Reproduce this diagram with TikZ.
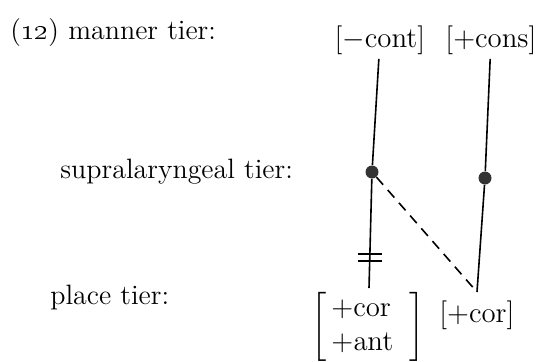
\documentclass[tikz,border=0pt]{standalone}
\usepackage{amsmath}
\usetikzlibrary{calc, positioning}

\begin{document}
\begin{tikzpicture}[
        x=0.5pt, y=-0.5pt,
        tier/.style={anchor=west, inner sep=0pt, font=\fontsize{14}{17}\selectfont},
        feat/.style={inner sep=2pt, font=\fontsize{14}{17}\selectfont},
        root/.style={circle, fill=black!80, inner sep=0pt, minimum size=6.5pt},
        assoc/.style={line width=0.8pt},
        delink/.style={line width=0.8pt, dash pattern=on 5pt off 3.5pt},
    ]
    \useasboundingbox (0,0) rectangle (542,361);

    % tier labels
    \node[tier] (manner) at (10,33) {(\oldstylenums{12}) manner tier:};
    \node[tier] (supra) at (60,172) {supralaryngeal tier:};
    \node[tier] (place) at (50,297) {place tier:};

    % manner features
    \node[feat] (cont) at (380,40) {$[-\mathrm{cont}]$};
    \node[feat] (cons) at (491,40) {$[+\mathrm{cons}]$};

    % supralaryngeal nodes
    \node[root] (lroot) at (372,172) {};
    \node[root] (rroot) at (485,178) {};

    % place features
    \node[feat, anchor=north] (pl) at (368,288)
        {$\left[\begin{array}{@{\,}l@{\;\;}}+\mathrm{cor}\\+\mathrm{ant}\end{array}\right]$};
    \coordinate (rend) at (477,292);
    \node[feat, below=2pt of rend] (pr) {$[+\mathrm{cor}]$};

    % association lines
    \draw[assoc] (cont) -- (lroot) -- (pl);
    \draw[assoc] (cons) -- (rroot) -- (rend);
    \draw[delink] (lroot) -- (rend);

    % delinking mark
    \coordinate (cut) at ($(lroot)!0.74!(pl.north)$);
    \draw[line width=1pt] ($(cut)+(-11,-3.5)$) -- ($(cut)+(13,-3.5)$);
    \draw[line width=1pt] ($(cut)+(-11,3.5)$) -- ($(cut)+(13,3.5)$);
\end{tikzpicture}
\end{document}
